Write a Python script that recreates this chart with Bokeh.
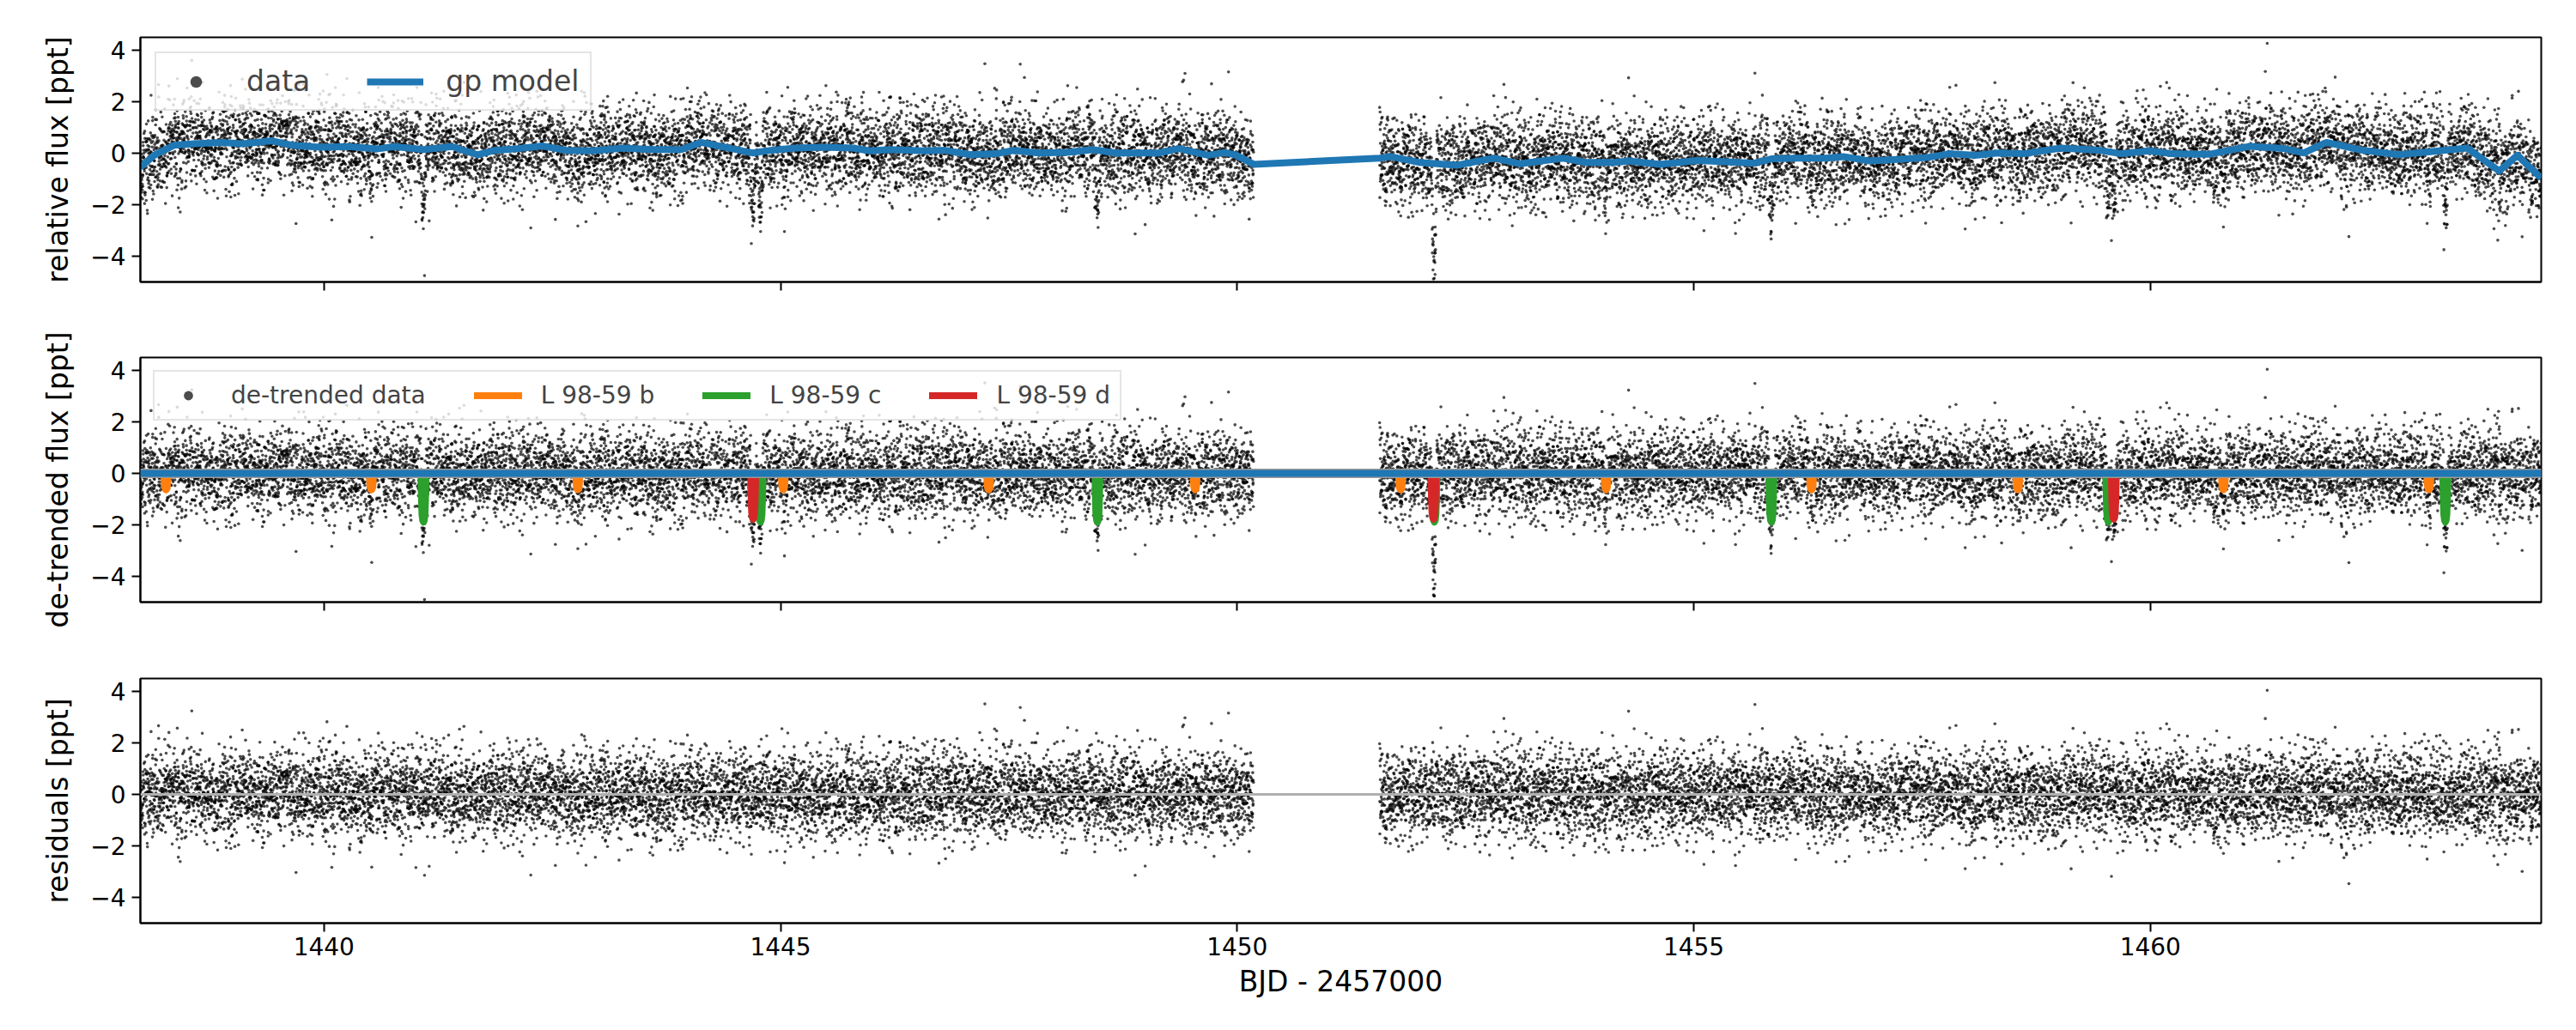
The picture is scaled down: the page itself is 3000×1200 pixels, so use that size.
import numpy as np
from bokeh.plotting import figure
from bokeh.layouts import column
from bokeh.models import (Range1d, FixedTicker, Legend, LegendItem, Span,
                          CustomJSTickFormatter)
from bokeh.embed import file_html
from bokeh.resources import INLINE

# ---------------------------------------------------------------- data
# TESS sector 5 coverage, BJD - 2457000
segment_start = [1437.99, 1451.56]
segment_end = [1450.18, 1464.28]
cadence_days = 2.0 / 1440.0
scatter_ppt = 0.85

# GP stellar-variability model (ppt)
gp_time = [1437.99, 1438.14, 1438.36, 1438.58, 1438.89, 1439.11, 1439.43, 1439.65,
           1439.96, 1440.27, 1440.59, 1440.77, 1441.09, 1441.40, 1441.68, 1441.87,
           1442.09, 1442.40, 1442.65, 1442.94, 1443.28, 1443.60, 1443.91, 1444.13,
           1444.35, 1444.69, 1444.91, 1445.16, 1445.48, 1445.79, 1445.98, 1446.20,
           1446.57, 1446.79, 1447.08, 1447.36, 1447.55, 1447.83, 1448.14, 1448.42,
           1448.67, 1449.15, 1449.36, 1449.68, 1449.87, 1449.99, 1450.18, 1451.56,
           1451.68, 1452.00, 1452.40, 1452.81, 1453.10, 1453.57, 1453.82, 1454.13,
           1454.29, 1454.63, 1455.04, 1455.35, 1455.66, 1455.85, 1456.13, 1456.45,
           1456.64, 1456.92, 1457.23, 1457.55, 1457.80, 1458.08, 1458.33, 1458.61,
           1459.02, 1459.43, 1459.68, 1459.99, 1460.24, 1460.65, 1461.09, 1461.46,
           1461.68, 1461.93, 1462.31, 1462.72, 1463.16, 1463.47, 1463.82, 1464.02,
           1464.28]
gp_flux = [-0.55, -0.08, 0.31, 0.37, 0.42, 0.37, 0.48, 0.31,
           0.23, 0.26, 0.17, 0.26, 0.14, 0.26, -0.06, 0.11,
           0.17, 0.28, 0.11, 0.09, 0.20, 0.14, 0.14, 0.42,
           0.26, 0.01, 0.12, 0.20, 0.23, 0.20, 0.09, 0.14,
           0.09, 0.12, -0.06, -0.02, 0.11, 0.01, 0.03, 0.14,
           0.01, 0.01, 0.18, -0.08, 0.03, -0.08, -0.43, -0.19,
           -0.13, -0.36, -0.47, -0.19, -0.41, -0.19, -0.36, -0.36,
           -0.30, -0.43, -0.28, -0.33, -0.39, -0.22, -0.19, -0.19,
           -0.13, -0.30, -0.24, -0.17, -0.02, -0.08, 0.01, -0.02,
           0.20, 0.12, -0.02, 0.09, -0.02, -0.04, 0.27, 0.18,
           0.01, 0.42, 0.12, -0.06, 0.09, 0.20, -0.69, -0.08,
           -0.97]

# mid-transit times of the three planets
b_epochs = [1438.27, 1440.52, 1442.78, 1445.03, 1447.28, 1449.54,
            1451.79, 1454.04, 1456.29, 1458.55, 1460.80, 1463.05]
c_epochs = [1441.09, 1444.78, 1448.47, 1452.16, 1455.85, 1459.54, 1463.23]
d_epochs = [1444.70, 1452.15, 1459.60]
planet_names = ["L 98-59 b", "L 98-59 c", "L 98-59 d"]
planet_depth_ppt = [0.64, 1.89, 1.78]
planet_duration_days = [0.045, 0.055, 0.055]

# normalised transit shape: phase in half-durations, fraction of full depth
profile_phase = [-1.0, -0.8, -0.6, -0.3, 0.0, 0.3, 0.6, 0.8, 1.0]
profile_depth = [0.0, 0.55, 0.85, 0.97, 1.0, 0.97, 0.85, 0.55, 0.0]

x_ticks = [1440, 1445, 1450, 1455, 1460]
y_ticks = [-4, -2, 0, 2, 4]

# ---------------------------------------------------------------- model
time = np.concatenate([np.arange(s, e, cadence_days)
                       for s, e in zip(segment_start, segment_end)])
phase = np.array(profile_phase)
shape = np.array(profile_depth)
planet_epochs = [b_epochs, c_epochs, d_epochs]

transit_flux = np.zeros_like(time)
transit_xs, transit_ys = [], []
for epochs, depth, dur in zip(planet_epochs, planet_depth_ppt, planet_duration_days):
    xs, ys = [], []
    for t0 in epochs:
        tx = t0 + phase * dur / 2.0
        ty = -depth * shape
        transit_flux += np.interp(time, tx, ty, left=0.0, right=0.0)
        xs.append(list(tx))
        ys.append(list(ty))
    transit_xs.append(xs)
    transit_ys.append(ys)

# photometric scatter of the light curve
rng = np.random.default_rng(9859)
residual = rng.normal(0.0, scatter_ppt, time.size)
trend = np.interp(time, gp_time, gp_flux)
detrended = transit_flux + residual
relative = trend + detrended

# ---------------------------------------------------------------- style
FONT = "DejaVu Sans"
BLUE = "#1f77b4"
PLANET_COLORS = ["#ff7f0e", "#2ca02c", "#d62728"]
DOT_SIZE = 3.6
DOT_ALPHA = 0.7
x_range = Range1d(segment_start[0], segment_end[1])

minus_fmt = CustomJSTickFormatter(
    code="return tick < 0 ? '\u2212' + (-tick) : '' + tick;")
blank_fmt = CustomJSTickFormatter(code="return '';")


def panel(ylabel, top, bottom, show_x):
    p = figure(width=3000, height=top + 285 + bottom, x_range=x_range,
               y_range=Range1d(-5, 4.5), output_backend="svg",
               toolbar_location=None, min_border_left=163, min_border_right=41,
               min_border_top=top, min_border_bottom=bottom)
    p.background_fill_color = "white"
    p.border_fill_color = "white"
    p.grid.visible = False
    p.outline_line_color = "black"
    p.outline_line_width = 2
    p.outline_line_alpha = 1.0
    for ax in (p.xaxis[0], p.yaxis[0]):
        ax.axis_line_width = 2
        ax.major_tick_line_width = 2
        ax.major_tick_out = 10
        ax.major_tick_in = 0
        ax.minor_tick_line_color = None
        ax.major_label_text_font = FONT
        ax.major_label_text_font_size = "28px"
        ax.major_label_text_color = "black"
        ax.axis_label_text_font = FONT
        ax.axis_label_text_font_size = "33px"
        ax.axis_label_text_font_style = "normal"
        ax.axis_label_text_color = "black"
    p.xaxis.ticker = FixedTicker(ticks=x_ticks)
    p.yaxis.ticker = FixedTicker(ticks=y_ticks)
    p.yaxis.formatter = minus_fmt
    p.yaxis.major_label_standoff = 7
    p.yaxis.axis_label_standoff = 15
    p.yaxis.axis_label = ylabel
    if show_x:
        p.xaxis.axis_label = "BJD - 2457000"
        p.xaxis.major_label_standoff = 6
        p.xaxis.axis_label_standoff = 8
    else:
        p.xaxis.formatter = blank_fmt
    return p


def legend_box(items, font_px, pad, handle, gap, item_h, margin):
    return Legend(items=items, orientation="horizontal", location="top_left",
                  margin=margin, padding=pad, spacing=handle, glyph_width=handle,
                  glyph_height=item_h, label_height=item_h, label_standoff=gap,
                  label_text_font=FONT, label_text_font_size=f"{font_px}px",
                  border_line_color="#cccccc", border_line_width=2,
                  background_fill_alpha=0.8)


def dots(p, y):
    return p.scatter(time, y, size=DOT_SIZE, marker="circle", fill_color="black",
                     fill_alpha=DOT_ALPHA, line_color=None)


# ---------------------------------------------------------------- panel 1
p1 = panel("relative flux [ppt]", 43, 44, False)
r_data = dots(p1, relative)
r_gp = p1.line(gp_time, gp_flux, line_color=BLUE, line_width=8,
               line_join="round")
p1.add_layout(legend_box([LegendItem(label="data", renderers=[r_data]),
                          LegendItem(label="gp model", renderers=[r_gp])],
                         33, 13, 66, 26, 34, 17))

# ---------------------------------------------------------------- panel 2
p2 = panel("de-trended flux [ppt]", 44, 44, False)
r_det = dots(p2, detrended)
planet_items = []
for name, color, xs, ys in zip(planet_names, PLANET_COLORS, transit_xs, transit_ys):
    r = p2.multi_line(xs, ys, line_color=color, line_width=8, line_join="round",
                      line_cap="round")
    planet_items.append(LegendItem(label=name, renderers=[r]))
p2.add_layout(Span(location=0, dimension="width", line_color="#9a9a9a",
                   line_width=11))
p2.add_layout(Span(location=0, dimension="width", line_color=BLUE, line_width=8))
p2.add_layout(legend_box([LegendItem(label="de-trended data", renderers=[r_det])]
                         + planet_items, 28, 11, 56, 22, 27, 15))

# ---------------------------------------------------------------- panel 3
p3 = panel("residuals [ppt]", 45, 125, True)
dots(p3, residual)
p3.add_layout(Span(location=0, dimension="width", line_color="#b0b0b0",
                   line_width=3))

layout = column(p1, p2, p3, spacing=0)
open("out.html", "w").write(file_html(layout, INLINE))
